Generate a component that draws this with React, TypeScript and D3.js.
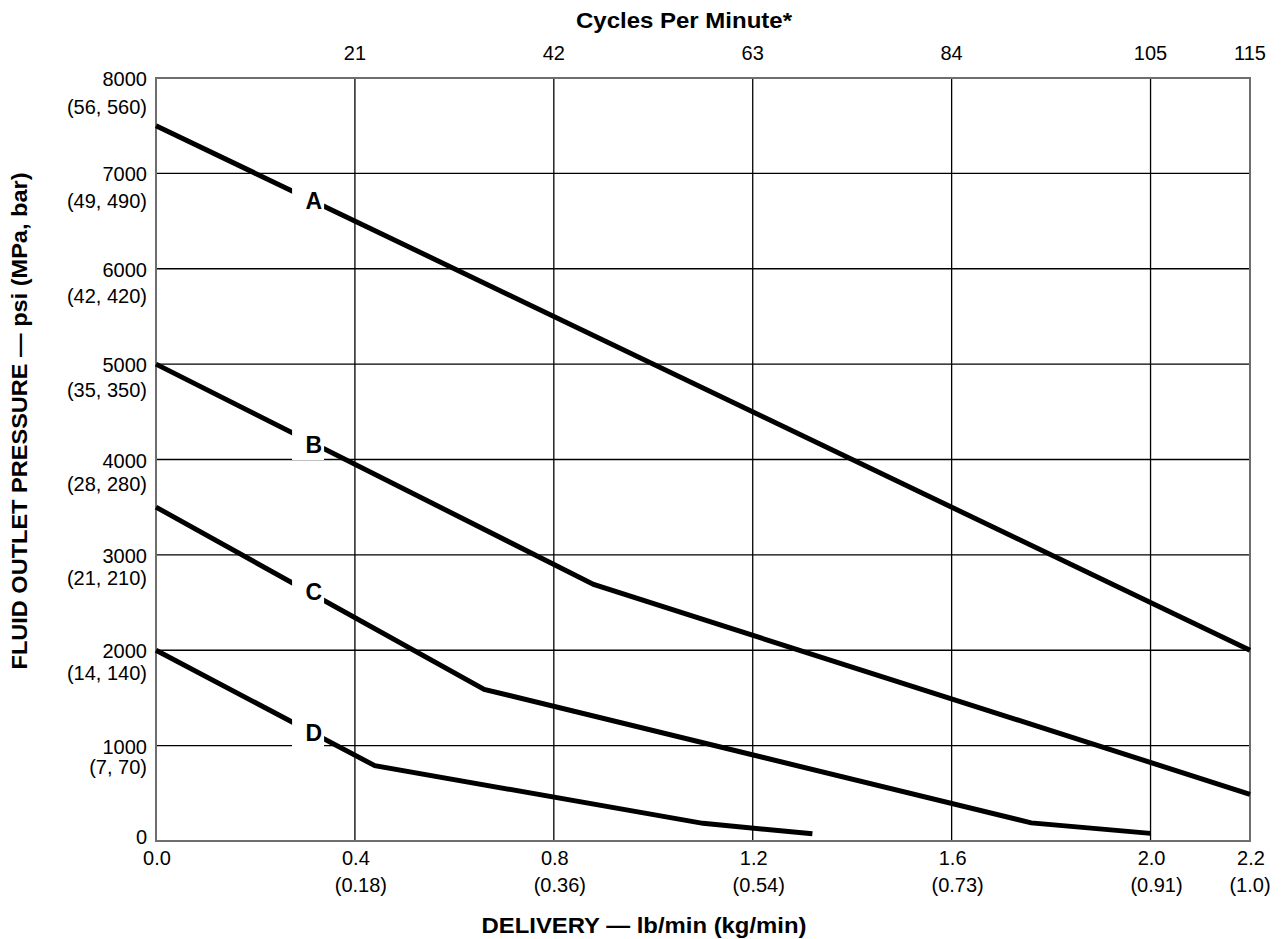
import * as d3 from 'd3'

// delivery (lb/min) vs fluid outlet pressure (psi)
const curveA: [number, number][] = [
  [0, 7500],
  [2.2, 2000],
]
const curveB: [number, number][] = [
  [0, 5000],
  [0.88, 2690],
  [2.2, 490],
]
const curveC: [number, number][] = [
  [0, 3500],
  [0.66, 1590],
  [1.76, 190],
  [2.0, 80],
]
const curveD: [number, number][] = [
  [0, 2000],
  [0.44, 790],
  [1.1, 185],
  [1.32, 75],
]
const curveNames = ['A', 'B', 'C', 'D']
const labelX = 0.336
const labelY = [6710, 4152, 2611, 1132]

const yTicks = [0, 1000, 2000, 3000, 4000, 5000, 6000, 7000, 8000]
const ySubLabels = ['', '(7, 70)', '(14, 140)', '(21, 210)', '(28, 280)', '(35, 350)', '(42, 420)', '(49, 490)', '(56, 560)']
const xTicks = [0, 0.4, 0.8, 1.2, 1.6, 2.0, 2.2]
const xTickLabels = ['0.0', '0.4', '0.8', '1.2', '1.6', '2.0', '2.2']
const xSubLabels = ['', '(0.18)', '(0.36)', '(0.54)', '(0.73)', '(0.91)', '(1.0)']
const cycleTicks = [0.4, 0.8, 1.2, 1.6, 2.0, 2.2]
const cycleLabels = ['21', '42', '63', '84', '105', '115']

const W = 1283
const H = 939
const margin = { top: 78, right: 33, bottom: 98, left: 156 }
const font = '"Liberation Sans", Arial, Helvetica, sans-serif'

export default function App() {
  const x = d3.scaleLinear().domain([0, 2.2]).range([margin.left, W - margin.right])
  const y = d3.scaleLinear().domain([0, 8000]).range([H - margin.bottom, margin.top])
  const line = d3
    .line<[number, number]>()
    .x((d) => x(d[0]))
    .y((d) => y(d[1]))
  const curves = [curveA, curveB, curveC, curveD]
  const [x0, x1] = x.range()
  const [y0, y1] = y.range()

  return (
    <svg
      width={W}
      height={H}
      viewBox={`0 0 ${W} ${H}`}
      style={{ position: 'absolute', left: 0, top: 0, background: '#fff' }}
      fontFamily={font}
    >
      <rect x={0} y={0} width={W} height={H} fill="#fff" />

      {/* grid */}
      {yTicks.slice(1, -1).map((t) => (
        <line key={'gy' + t} x1={x0} x2={x1} y1={y(t)} y2={y(t)} stroke="#000" strokeWidth={1.3} />
      ))}
      {xTicks.slice(1, -1).map((t) => (
        <line key={'gx' + t} x1={x(t)} x2={x(t)} y1={y0} y2={y1} stroke="#000" strokeWidth={1.3} />
      ))}
      <rect x={x0} y={y1} width={x1 - x0} height={y0 - y1} fill="none" stroke="#6e6e6e" strokeWidth={2} />

      {/* curves */}
      {curves.map((c, i) => (
        <path
          key={curveNames[i]}
          d={line(c) ?? ''}
          fill="none"
          stroke="#000"
          strokeWidth={5}
          strokeLinecap="butt"
          strokeLinejoin="miter"
        />
      ))}

      {/* curve labels with white knock-out */}
      {curveNames.map((n, i) => (
        <g key={'lab' + n}>
          <rect x={x(labelX) - 31} y={y(labelY[i]) - 15} width={32} height={30} fill="#fff" />
          <text
            x={x(labelX) - 1}
            y={y(labelY[i])}
            textAnchor="end"
            dominantBaseline="central"
            fontSize={23}
            fontWeight="bold"
          >
            {n}
          </text>
        </g>
      ))}

      {/* left axis */}
      {yTicks.map((t, i) => (
        <g key={'yl' + t} fontSize={20}>
          <text x={x0 - 9} y={t === 0 ? y(t) - 4 : y(t) + 1} textAnchor="end" dominantBaseline="central">
            {t}
          </text>
          {ySubLabels[i] && (
            <text x={x0 - 9} y={y(t) + 20 + t * 0.00115} textAnchor="end" dominantBaseline="central">
              {ySubLabels[i]}
            </text>
          )}
        </g>
      ))}

      {/* bottom axis */}
      {xTicks.map((t, i) => (
        <g key={'xl' + t} fontSize={20}>
          <text x={x(t) + 1} y={y0 + 17} textAnchor="middle" dominantBaseline="central">
            {xTickLabels[i]}
          </text>
          {xSubLabels[i] && (
            <text
              x={x(t) + (t === 2.2 ? 0 : 6)}
              y={y0 + 44}
              textAnchor="middle"
              dominantBaseline="central"
            >
              {xSubLabels[i]}
            </text>
          )}
        </g>
      ))}

      {/* top axis */}
      {cycleTicks.map((t, i) => (
        <text key={'cl' + t} x={x(t)} y={53} textAnchor="middle" dominantBaseline="central" fontSize={20}>
          {cycleLabels[i]}
        </text>
      ))}

      {/* titles */}
      <text
        x={684}
        y={20}
        textAnchor="middle"
        dominantBaseline="central"
        fontSize={22}
        fontWeight="bold"
        textLength={216}
        lengthAdjust="spacingAndGlyphs"
      >
        Cycles Per Minute*
      </text>
      <text
        x={644}
        y={925}
        textAnchor="middle"
        dominantBaseline="central"
        fontSize={22}
        fontWeight="bold"
        textLength={325}
        lengthAdjust="spacingAndGlyphs"
      >
        DELIVERY — lb/min (kg/min)
      </text>
      <text
        transform="translate(19,421) rotate(-90)"
        textAnchor="middle"
        dominantBaseline="central"
        fontSize={22}
        fontWeight="bold"
        textLength={497}
        lengthAdjust="spacingAndGlyphs"
      >
        FLUID OUTLET PRESSURE — psi (MPa, bar)
      </text>
    </svg>
  )
}
